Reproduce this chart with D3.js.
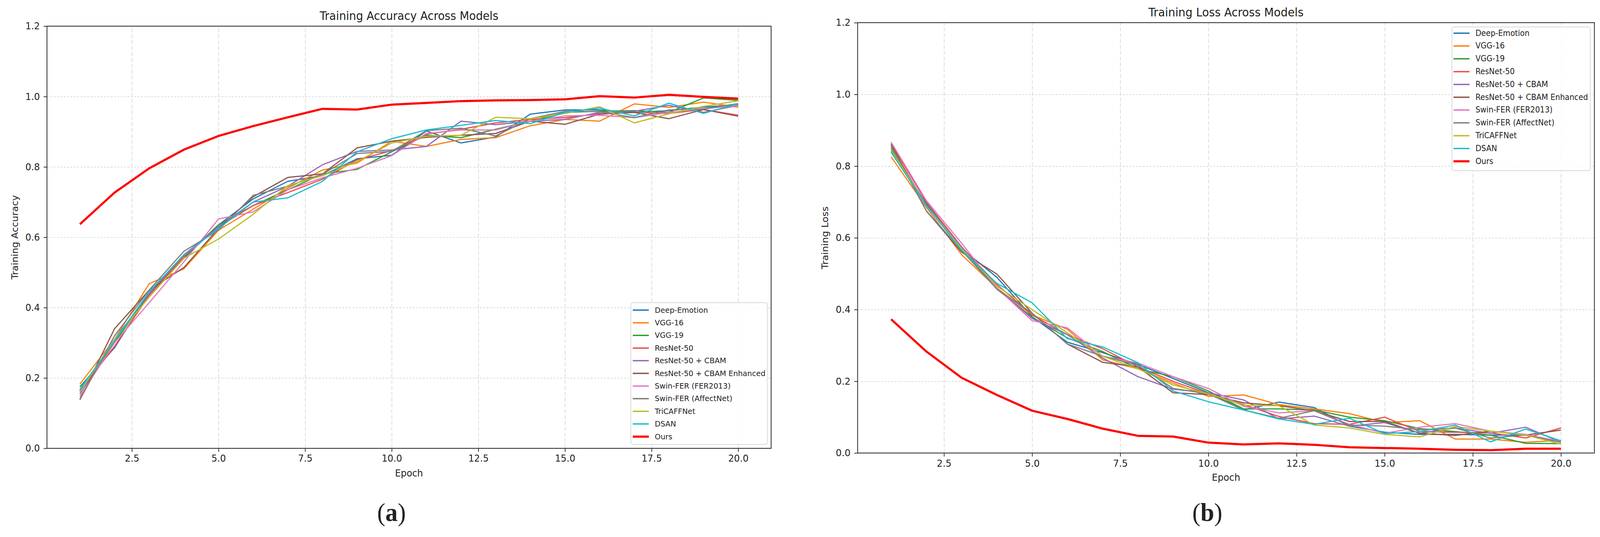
<!DOCTYPE html>
<html>
<head>
<meta charset="utf-8">
<script src="https://cdn.jsdelivr.net/npm/d3@7"></script>
<style>
  html, body { margin: 0; padding: 0; width: 100%; height: 100%; overflow: hidden; background: #fff; }
  #chart svg { display: block; width: 100vw; height: 100vh; }
  svg text { font-family: "DejaVu Sans", sans-serif; fill: #222; }
</style>
</head>
<body>
<div id="chart"></div>
<script>
// figure size (drawing units, scaled to the window through the viewBox)
var svgWidth = 4291;
var svgHeight = 1375;

// data
var epochs = d3.range(1, 21);
var models = ["Deep-Emotion", "VGG-16", "VGG-19", "ResNet-50", "ResNet-50 + CBAM",
  "ResNet-50 + CBAM Enhanced", "Swin-FER (FER2013)", "Swin-FER (AffectNet)",
  "TriCAFFNet", "DSAN", "Ours"];
var colors = ["#1f77b4", "#ff7f0e", "#2ca02c", "#f04a4a", "#9467bd",
  "#8c564b", "#e377c2", "#7f7f7f", "#bcbd22", "#17becf", "#ff0000"];

var accuracy = [
  [0.175, 0.286, 0.44, 0.54, 0.635, 0.709, 0.759, 0.775, 0.823, 0.833, 0.902, 0.868, 0.885, 0.95, 0.962, 0.962, 0.955, 0.96, 0.97, 0.977],
  [0.183, 0.31, 0.468, 0.51, 0.62, 0.68, 0.74, 0.791, 0.811, 0.873, 0.858, 0.878, 0.883, 0.917, 0.935, 0.93, 0.979, 0.969, 0.984, 0.97],
  [0.165, 0.3, 0.44, 0.545, 0.635, 0.69, 0.735, 0.78, 0.793, 0.843, 0.89, 0.883, 0.907, 0.93, 0.955, 0.958, 0.96, 0.955, 0.996, 0.989],
  [0.162, 0.29, 0.435, 0.545, 0.63, 0.69, 0.727, 0.765, 0.82, 0.846, 0.893, 0.907, 0.925, 0.935, 0.94, 0.951, 0.955, 0.952, 0.963, 0.947],
  [0.155, 0.31, 0.44, 0.55, 0.63, 0.7, 0.745, 0.806, 0.844, 0.848, 0.858, 0.93, 0.92, 0.93, 0.935, 0.955, 0.958, 0.975, 0.955, 0.975],
  [0.14, 0.34, 0.45, 0.514, 0.625, 0.715, 0.77, 0.78, 0.854, 0.873, 0.884, 0.89, 0.895, 0.93, 0.921, 0.95, 0.955, 0.937, 0.963, 0.944],
  [0.148, 0.3, 0.414, 0.53, 0.652, 0.672, 0.735, 0.769, 0.796, 0.832, 0.895, 0.905, 0.905, 0.93, 0.945, 0.947, 0.94, 0.955, 0.965, 0.975],
  [0.138, 0.32, 0.45, 0.56, 0.62, 0.719, 0.745, 0.779, 0.838, 0.844, 0.903, 0.91, 0.888, 0.937, 0.958, 0.957, 0.94, 0.962, 0.965, 0.98],
  [0.16, 0.31, 0.43, 0.54, 0.595, 0.665, 0.747, 0.775, 0.815, 0.868, 0.887, 0.89, 0.941, 0.937, 0.952, 0.971, 0.925, 0.951, 0.972, 0.988],
  [0.168, 0.305, 0.445, 0.55, 0.625, 0.7, 0.712, 0.759, 0.843, 0.88, 0.905, 0.918, 0.932, 0.923, 0.955, 0.967, 0.945, 0.981, 0.952, 0.98],
  [0.637, 0.727, 0.796, 0.849, 0.888, 0.916, 0.941, 0.965, 0.963, 0.977, 0.982, 0.987, 0.989, 0.99, 0.992, 1.001, 0.997, 1.005, 0.999, 0.994]
];

var loss = [
  [0.842, 0.695, 0.57, 0.49, 0.38, 0.309, 0.28, 0.247, 0.208, 0.168, 0.12, 0.142, 0.127, 0.075, 0.058, 0.052, 0.052, 0.05, 0.05, 0.032],
  [0.826, 0.685, 0.553, 0.46, 0.385, 0.345, 0.26, 0.235, 0.195, 0.158, 0.162, 0.135, 0.123, 0.11, 0.085, 0.09, 0.039, 0.039, 0.03, 0.035],
  [0.85, 0.69, 0.57, 0.457, 0.379, 0.321, 0.283, 0.235, 0.213, 0.173, 0.123, 0.123, 0.12, 0.1, 0.09, 0.068, 0.06, 0.05, 0.027, 0.026],
  [0.862, 0.7, 0.575, 0.47, 0.385, 0.33, 0.291, 0.24, 0.2, 0.165, 0.135, 0.102, 0.082, 0.08, 0.1, 0.06, 0.058, 0.056, 0.042, 0.07],
  [0.855, 0.69, 0.575, 0.46, 0.375, 0.33, 0.265, 0.213, 0.178, 0.168, 0.148, 0.095, 0.103, 0.075, 0.085, 0.055, 0.07, 0.055, 0.072, 0.03],
  [0.862, 0.675, 0.56, 0.499, 0.39, 0.304, 0.253, 0.24, 0.168, 0.163, 0.14, 0.132, 0.118, 0.088, 0.088, 0.055, 0.049, 0.061, 0.05, 0.064],
  [0.867, 0.704, 0.585, 0.46, 0.369, 0.349, 0.27, 0.251, 0.213, 0.18, 0.13, 0.112, 0.118, 0.08, 0.055, 0.072, 0.082, 0.061, 0.052, 0.032],
  [0.857, 0.675, 0.565, 0.457, 0.39, 0.304, 0.27, 0.245, 0.18, 0.165, 0.12, 0.097, 0.118, 0.078, 0.075, 0.065, 0.07, 0.042, 0.05, 0.03],
  [0.846, 0.69, 0.57, 0.465, 0.4, 0.335, 0.27, 0.235, 0.19, 0.165, 0.133, 0.132, 0.078, 0.07, 0.052, 0.045, 0.074, 0.061, 0.05, 0.025],
  [0.839, 0.69, 0.565, 0.473, 0.419, 0.319, 0.296, 0.252, 0.173, 0.143, 0.12, 0.095, 0.08, 0.097, 0.054, 0.06, 0.078, 0.031, 0.067, 0.034],
  [0.373, 0.283, 0.21, 0.162, 0.118, 0.095, 0.068, 0.048, 0.046, 0.029, 0.024, 0.027, 0.023, 0.016, 0.014, 0.012, 0.009, 0.008, 0.012, 0.012]
];

var xTicks = [2.5, 5, 7.5, 10, 12.5, 15, 17.5, 20];
var yTicks = [0, 0.2, 0.4, 0.6, 0.8, 1.0, 1.2];

var svg = d3.select("#chart").append("svg")
  .attr("viewBox", `0 0 ${svgWidth} ${svgHeight}`)
  .attr("preserveAspectRatio", "none");

// panel layouts (pixels)
var panelA = {
  left: 126, right: 2068, top: 67, bottom: 1148, k: 1,
  title: "Training Accuracy Across Models", titleY: 51,
  ylabel: "Training Accuracy", ylabelX: 40, xlabelY: 1220,
  legend: { x0: 1692, x1: 2058, y0: 775, y1: 1138, row0: 794, step: 32.4, hx0: 1697, hx1: 1740, tx: 1756 },
  tag: "a", tagX: 1050, tagY: 1334
};
var panelB = {
  left: 2300, right: 4276, top: 58, bottom: 1160, k: 1.017,
  title: "Training Loss Across Models", titleY: 42.5,
  ylabel: "Training Loss", ylabelX: 2212, xlabelY: 1231,
  legend: { x0: 3894, x1: 4265, y0: 69, y1: 437, row0: 85, step: 32.8, hx0: 3898, hx1: 3941, tx: 3957 },
  tag: "b", tagX: 3238, tagY: 1334
};

function drawPanel(p, series) {
  var x = d3.scaleLinear().domain([0.05, 20.95]).range([p.left, p.right]);
  var y = d3.scaleLinear().domain([0, 1.2]).range([p.bottom, p.top]);
  var g = svg.append("g");

  // grid
  g.append("g")
    .attr("transform", `translate(0, ${p.bottom})`)
    .call(d3.axisBottom(x).tickValues(xTicks).tickSize(-(p.bottom - p.top)).tickFormat(""))
    .call(s => s.select(".domain").remove())
    .selectAll("line")
    .attr("stroke", "#d4d4d4").attr("stroke-width", 1.6).attr("stroke-dasharray", "10,5");
  g.append("g")
    .attr("transform", `translate(${p.left}, 0)`)
    .call(d3.axisLeft(y).tickValues(yTicks.slice(1, 6)).tickSize(-(p.right - p.left)).tickFormat(""))
    .call(s => s.select(".domain").remove())
    .selectAll("line")
    .attr("stroke", "#d4d4d4").attr("stroke-width", 1.6).attr("stroke-dasharray", "5,4");

  // lines
  var line = d3.line()
    .x((d, i) => x(epochs[i]))
    .y(d => y(d));
  g.selectAll(".series")
    .data(series)
    .enter()
    .append("path")
    .attr("d", d => line(d))
    .attr("fill", "none")
    .attr("stroke", (d, i) => colors[i])
    .attr("stroke-width", (d, i) => i === 10 ? 5.5 : 3)
    .attr("stroke-linejoin", "round");

  // frame
  g.append("rect")
    .attr("x", p.left).attr("y", p.top)
    .attr("width", p.right - p.left).attr("height", p.bottom - p.top)
    .attr("fill", "none").attr("stroke", "#333").attr("stroke-width", 2.2);

  // axes
  var tickFs = 24.5 * p.k;
  var xAxis = g.append("g")
    .attr("transform", `translate(0, ${p.bottom})`)
    .call(d3.axisBottom(x).tickValues(xTicks).tickSize(9).tickPadding(8).tickFormat(d3.format(".1f")));
  var yAxis = g.append("g")
    .attr("transform", `translate(${p.left}, 0)`)
    .call(d3.axisLeft(y).tickValues(yTicks).tickSize(9).tickPadding(10).tickFormat(d3.format(".1f")));
  [xAxis, yAxis].forEach(function(a) {
    a.select(".domain").remove();
    a.selectAll("line").attr("stroke", "#333").attr("stroke-width", 2);
    a.selectAll("text")
      .attr("font-size", tickFs)
      .attr("font-family", "DejaVu Sans")
      .attr("fill", "#222");
  });

  // title and axis labels
  g.append("text")
    .attr("x", (p.left + p.right) / 2).attr("y", p.titleY)
    .attr("text-anchor", "middle").attr("font-size", 29.5 * p.k)
    .text(p.title);
  g.append("text")
    .attr("x", (p.left + p.right) / 2).attr("y", p.xlabelY)
    .attr("text-anchor", "middle").attr("font-size", tickFs)
    .text("Epoch");
  g.append("text")
    .attr("transform", `translate(${p.ylabelX}, ${(p.top + p.bottom) / 2}) rotate(-90)`)
    .attr("text-anchor", "middle").attr("dominant-baseline", "central")
    .attr("font-size", tickFs)
    .text(p.ylabel);

  // legend
  var L = p.legend;
  g.append("rect")
    .attr("x", L.x0).attr("y", L.y0)
    .attr("width", L.x1 - L.x0).attr("height", L.y1 - L.y0)
    .attr("rx", 5)
    .attr("fill", "#fff").attr("fill-opacity", 0.85)
    .attr("stroke", "#d8d8d8").attr("stroke-width", 2);
  var items = g.selectAll(".leg")
    .data(models)
    .enter()
    .append("g")
    .attr("transform", (d, i) => `translate(0, ${L.row0 + i * L.step})`);
  items.append("line")
    .attr("x1", L.hx0).attr("x2", L.hx1)
    .attr("stroke", (d, i) => colors[i])
    .attr("stroke-width", (d, i) => i === 10 ? 5.5 : 3.5);
  items.append("text")
    .attr("x", L.tx)
    .attr("dominant-baseline", "central")
    .attr("font-size", 20 * p.k)
    .text(d => d);

  // panel tag
  var tag = svg.append("text")
    .attr("x", p.tagX).attr("y", p.tagY)
    .attr("text-anchor", "middle")
    .attr("font-size", 66)
    .style("font-family", "'Liberation Serif', 'DejaVu Serif', serif")
    .attr("fill", "#000");
  tag.append("tspan").text("(");
  tag.append("tspan").attr("font-weight", "bold").text(p.tag);
  tag.append("tspan").text(")");
}

drawPanel(panelA, accuracy);
drawPanel(panelB, loss);
</script>
</body>
</html>
